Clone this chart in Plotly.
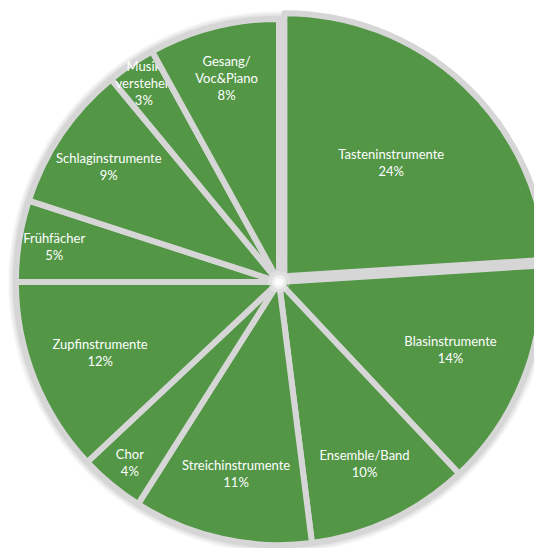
import plotly.graph_objects as go

labels = ["Tasteninstrumente", "Blasinstrumente", "Ensemble/Band", "Streichinstrumente",
          "Chor", "Zupfinstrumente", "Frühfächer", "Schlaginstrumente",
          "Musik<br>verstehen", "Gesang/<br>Voc&Piano"]
values = [24, 14, 10, 11, 4, 12, 5, 9, 3, 8]
pulls = [0.03, 0, 0, 0, 0, 0, 0, 0, 0, 0]

W, H = 542, 548
green = "#529646"
sep = "#d6d6d6"

fig = go.Figure(go.Pie(
    labels=labels,
    values=values,
    sort=False,
    direction="clockwise",
    rotation=0,
    pull=pulls,
    marker=dict(colors=[green] * len(values), line=dict(color=sep, width=6)),
    textinfo="label+percent",
    textposition="inside",
    insidetextorientation="horizontal",
    textfont=dict(family="Lato", size=13, color="white"),
    hoverinfo="label+percent",
    domain=dict(x=[0, 1], y=[0, 1]),
))

# geometry of the pie (plotly: r = min(w,h)/2/(1+maxPull))
r = min(W, H) / 2 / (1 + max(pulls))
cx, cy = W / 2, H / 2

shapes = []
# soft drop shadow around the pie
for k in range(1, 9):
    rr = r + k
    shapes.append(dict(type="circle", xref="paper", yref="paper", layer="below",
                       x0=(cx - rr) / W, x1=(cx + rr) / W,
                       y0=1 - (cy + rr) / H, y1=1 - (cy - rr) / H,
                       fillcolor="rgba(0,0,0,0.022)", line=dict(width=0)))
# white glow in the centre
for rr, op in [(11, 0.25), (7, 0.5), (4, 0.8)]:
    shapes.append(dict(type="circle", xref="paper", yref="paper", layer="above",
                       x0=(cx - rr) / W, x1=(cx + rr) / W,
                       y0=1 - (cy + rr) / H, y1=1 - (cy - rr) / H,
                       fillcolor="white", opacity=op, line=dict(width=0)))

fig.update_layout(
    width=W, height=H,
    margin=dict(l=0, r=0, t=0, b=0),
    showlegend=False,
    paper_bgcolor="white",
    uniformtext=dict(minsize=13, mode="show"),
    shapes=shapes,
)

fig.write_html("out.html")
